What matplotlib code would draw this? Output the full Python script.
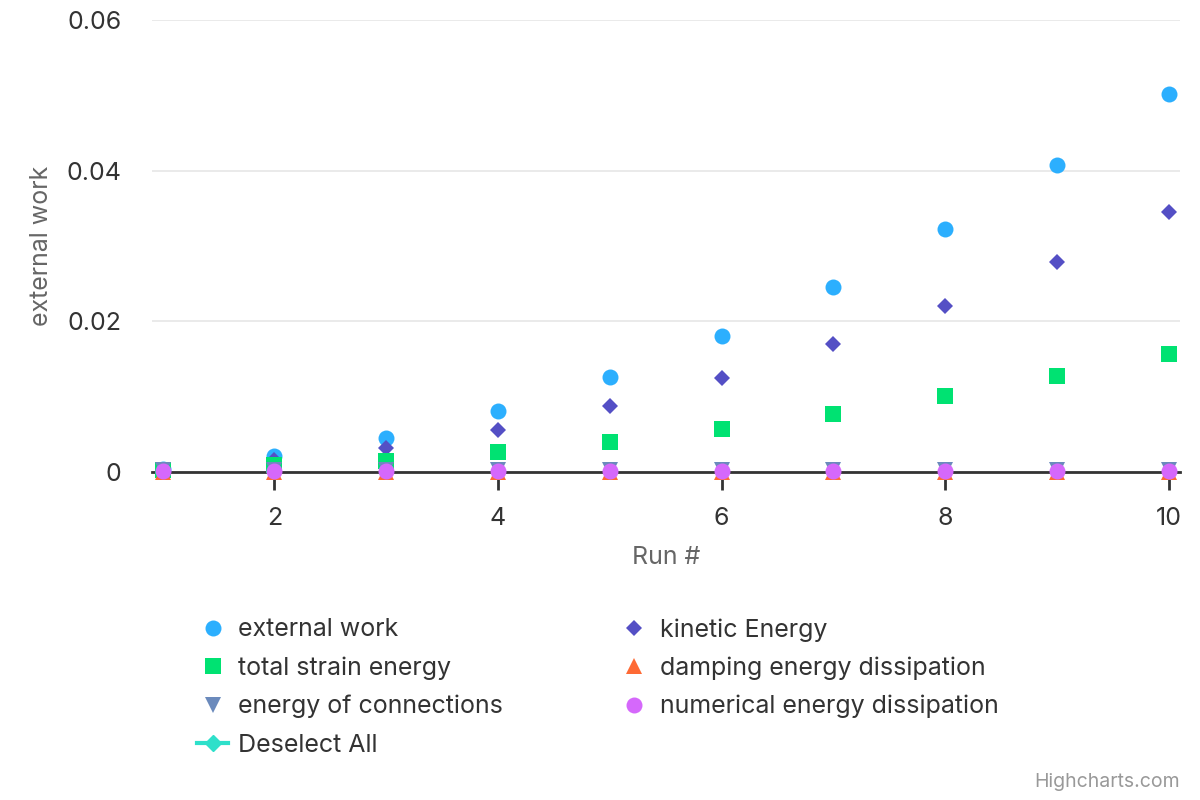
import matplotlib.pyplot as plt
from matplotlib.lines import Line2D

plt.rcParams['font.family'] = ['Inter', 'DejaVu Sans']

# --- data ---
runs = [1, 2, 3, 4, 5, 6, 7, 8, 9, 10]
external_work = [0.0004, 0.0021, 0.0045, 0.0081, 0.0126, 0.0181, 0.0246, 0.0322, 0.0407, 0.0502]
kinetic_energy = [0.0003, 0.0016, 0.0032, 0.0056, 0.0087, 0.0125, 0.0170, 0.0221, 0.0279, 0.0345]
strain_energy = [0.0002, 0.0009, 0.0015, 0.0026, 0.0040, 0.0057, 0.0077, 0.0101, 0.0127, 0.0157]
damping = [0.0, 0.0, 0.0, 0.0, 0.0, 0.0, 0.0, 0.0, 0.0, 0.0]
connections = [0.0002, 0.0002, 0.0002, 0.0002, 0.0002, 0.0002, 0.0002, 0.0002, 0.0002, 0.0002]
numerical = [0.0001, 0.0001, 0.0001, 0.0001, 0.0001, 0.0001, 0.0001, 0.0001, 0.0001, 0.0001]

y_ticks = [0, 0.02, 0.04, 0.06]
y_tick_labels = ["0", "0.02", "0.04", "0.06"]
x_ticks = [2, 4, 6, 8, 10]

# --- figure setup ---
fig = plt.figure(figsize=(12, 8), dpi=100)
ax = fig.add_axes([152 / 1200, 1 - 472 / 800, (1180 - 152) / 1200, (472 - 20) / 800])

ms = 11.5
series = [
    ("external work", external_work, "o", "#2caffe", ms),
    ("kinetic Energy", kinetic_energy, "D", "#544fc5", ms * 0.75),
    ("total strain energy", strain_energy, "s", "#00e272", ms * 0.95),
    ("damping energy dissipation", damping, "^", "#fe6a35", ms),
    ("energy of connections", connections, "v", "#6b8abc", ms),
    ("numerical energy dissipation", numerical, "o", "#d568fb", ms),
]
handles = {}
for name, vals, mk, col, size in series:
    h, = ax.plot(runs, vals, linestyle="none", marker=mk, color=col,
                 markersize=size, markeredgewidth=0, clip_on=False, zorder=3)
    handles[name] = h

# "Deselect All" has no points, just a legend entry
deselect = Line2D([], [], color="#2ee0ca", marker="D", markersize=8, linewidth=3)

ax.set_xlim(0.905, 10.1)
ax.set_ylim(0, 0.06)
ax.set_yticks(y_ticks)
ax.set_yticklabels(y_tick_labels)
ax.set_xticks(x_ticks)
ax.grid(axis="y", color="#e6e6e6", linewidth=1.2)
ax.set_axisbelow(True)

for side in ["top", "right", "left"]:
    ax.spines[side].set_visible(False)
ax.spines["bottom"].set_color("#333333")
ax.spines["bottom"].set_linewidth(2)
ax.spines["bottom"].set_zorder(2)

ax.tick_params(axis="y", length=0, labelsize=18, labelcolor="#333333", pad=22)
ax.tick_params(axis="x", length=13, width=2, color="#333333", labelsize=18,
               labelcolor="#333333", pad=12)

ax.set_xlabel("Run #", fontsize=18, color="#666666", labelpad=12)
ax.set_ylabel("external work", fontsize=18, color="#666666", labelpad=9.5)

# --- legend (column-wise order to mimic highcharts row layout) ---
order = ["external work", "total strain energy", "energy of connections"]
col2 = ["kinetic Energy", "damping energy dissipation", "numerical energy dissipation"]
leg_handles = [handles[n] for n in order] + [deselect] + [handles[n] for n in col2]
leg_labels = order + ["Deselect All"] + col2
fig.legend(leg_handles, leg_labels, loc="upper left", bbox_to_anchor=(197 / 1200, 1 - 618 / 800),
           ncol=2, frameon=False, fontsize=18, labelcolor="#333333",
           handlelength=1.24, handletextpad=0.4, columnspacing=4.64, labelspacing=0.6,
           borderaxespad=0, borderpad=0)

fig.text(1180 / 1200, 1 - 782 / 800, "Highcharts.com", ha="right", va="center",
         fontsize=14, color="#999999")

fig.savefig("out.png", dpi=100)
